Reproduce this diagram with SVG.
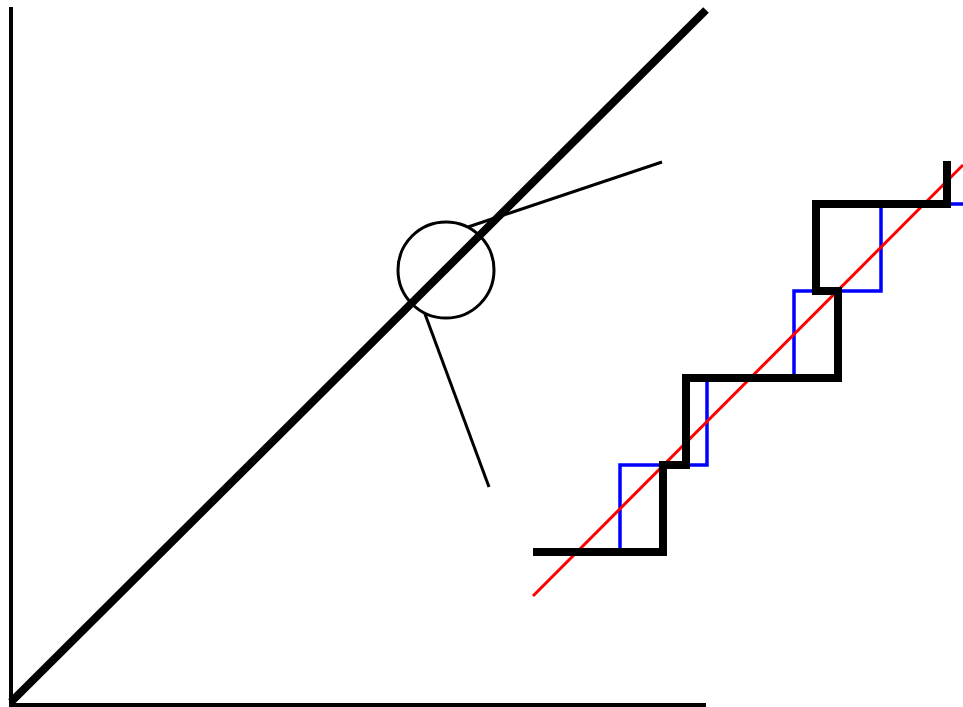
<svg xmlns="http://www.w3.org/2000/svg" width="963" height="707" viewBox="0 0 963 707">
<style>
.ax{stroke:#000;stroke-width:4;fill:none}
.thick{stroke:#000;stroke-width:8;fill:none}
.thin{stroke:#000;stroke-width:3;fill:none}
.blue{stroke:#0000ff;stroke-width:3.5;fill:none}
.red{stroke:#ff0000;stroke-width:3;fill:none}
</style>
<rect width="963" height="707" fill="#fff"/>
<g id="axes">
<line class="ax" x1="11" y1="7" x2="11" y2="707"/>
<line class="ax" x1="9" y1="705" x2="706" y2="705"/>
</g>
<g id="diagonal">
<line class="thick" x1="11" y1="702" x2="706" y2="10"/>
</g>
<g id="magnifier">
<circle class="thin" cx="446" cy="270" r="48" stroke="#222"/>
<line class="thin" x1="468" y1="227" x2="662" y2="162"/>
<line class="thin" x1="425" y1="314" x2="489" y2="487"/>
</g>
<g id="staircase">
<path class="blue" d="M620,552 V465 H707 V378 H794 V291 H881 V204 H963"/>
<line class="red" x1="533" y1="596" x2="963" y2="165"/>
<path class="thick" d="M533,552 H663 V465 H686 V378 H838 V291 H816 V204 H947 V161"/>
</g>
</svg>
